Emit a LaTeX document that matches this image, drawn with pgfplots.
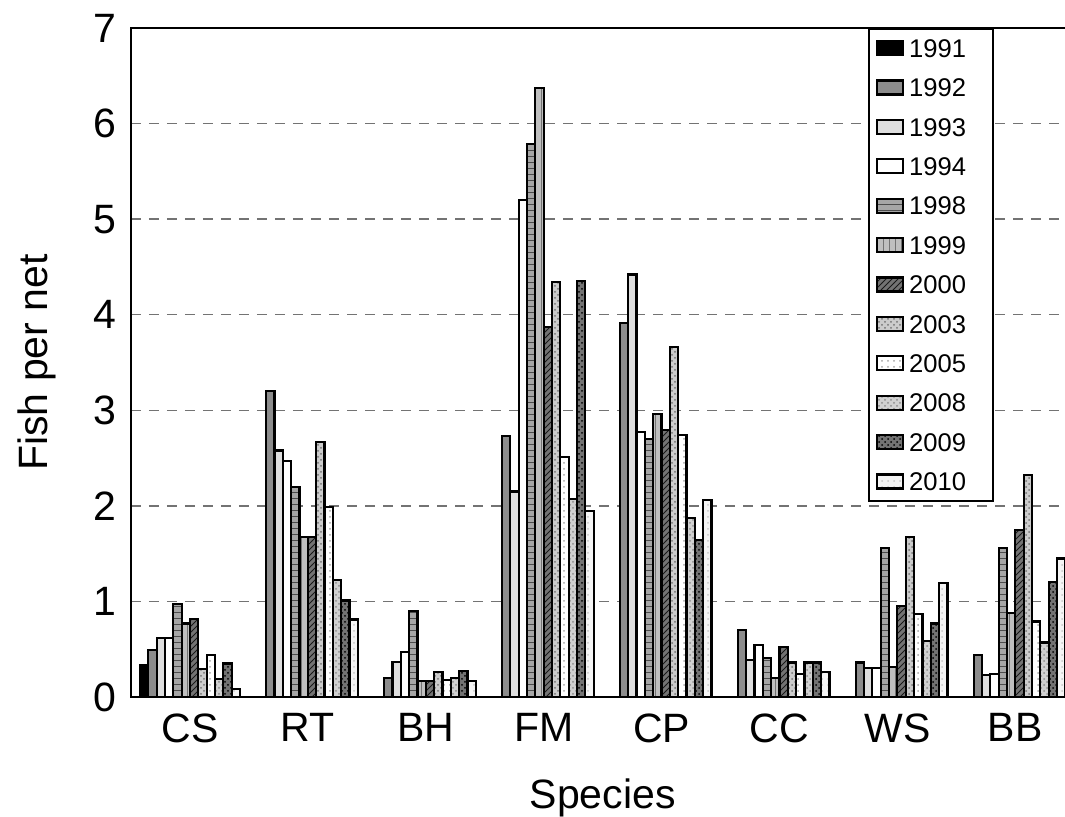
\documentclass[border=0pt]{standalone}
\usepackage{fontspec}
\setmainfont{Liberation Sans}
\usepackage{pgfplots}
\pgfplotsset{compat=1.18}
\usepackage{pgfplotstable}
\usetikzlibrary{patterns}

% Fish per net by species (g = species index) and survey year
\pgfplotstableread{
g  y1991 y1992 y1993 y1994 y1998 y1999 y2000 y2003 y2005 y2008 y2009 y2010
0  0.33  0.49  0.62  0.62  0.97  0.77  0.82  0.29  0.44  0.19  0.35  0.08
1  0     3.20  2.58  2.47  2.20  1.67  1.67  2.67  1.99  1.22  1.01  0.81
2  0     0.20  0.37  0.47  0.90  0.17  0.17  0.26  0.18  0.20  0.27  0.17
3  0     2.73  2.15  5.20  5.79  6.37  3.87  4.34  2.51  2.07  4.35  1.95
4  0     3.91  4.42  2.77  2.70  2.96  2.79  3.66  2.74  1.87  1.64  2.06
5  0     0.70  0.39  0.54  0.41  0.20  0.52  0.36  0.24  0.36  0.36  0.26
6  0     0.36  0.30  0.30  1.56  0.31  0.95  1.67  0.87  0.59  0.77  1.19
7  0     0.44  0.23  0.24  1.56  0.88  1.75  2.32  0.79  0.57  1.20  1.45
}\fishdata

\pgfplotsset{
  barbase/.style={draw=black, line width=1.1pt},
  b1991/.style={barbase, fill=black},
  b1992/.style={barbase, fill=black!45},
  b1993/.style={barbase, fill=black!13},
  b1994/.style={barbase, fill=white},
  b1998/.style={barbase, fill=black!35, postaction={pattern=horizontal lines, pattern color=black!70}},
  b1999/.style={barbase, fill=black!25, postaction={pattern=vertical lines, pattern color=black!55}},
  b2000/.style={barbase, fill=black!55, postaction={pattern=north east lines, pattern color=black!90}},
  b2003/.style={barbase, fill=black!20, postaction={pattern=crosshatch dots, pattern color=black!55}},
  b2005/.style={barbase, fill=white, postaction={pattern=dots, pattern color=black!35}},
  b2008/.style={barbase, fill=black!18, postaction={pattern=crosshatch dots, pattern color=black!45}},
  b2009/.style={barbase, fill=black!55, postaction={pattern=crosshatch dots, pattern color=black}},
  b2010/.style={barbase, fill=black!4, postaction={pattern=dots, pattern color=black!22}},
}

\newcommand\bigfont{\fontsize{20.5}{24.6}\selectfont}
\newcommand\yr[1]{\makebox[38.5pt][l]{#1}}

\begin{document}
\begin{tikzpicture}
\begin{axis}[
  at={(0,0)}, anchor=south west,
  scale only axis,
  width=471.625pt, height=334.5pt,
  xmin=-0.5, xmax=7.5,
  ymin=0, ymax=7,
  ybar=0pt, bar width=0.0707,
  xtick={0,...,7},
  xticklabels={CS,RT,BH,FM,CP,CC,WS,BB},
  ytick={0,...,7},
  major tick length=0pt,
  tick style={draw=none},
  /pgf/number format/assume math mode=true,
  tick label style={font=\bigfont},
  yticklabel style={xshift=-3.7pt},
  xticklabel style={yshift=-4.7pt},
  label style={font=\bigfont},
  xlabel={Species},
  ylabel={Fish per net},
  xlabel style={at={(axis description cs:0.5,-0.166)}, anchor=base},
  ylabel style={at={(axis description cs:-0.089,0.5)}, anchor=base},
  ymajorgrids,
  grid style={black!55, line width=0.7pt, dash pattern=on 5pt off 4pt},
  axis line style={line width=0.9pt},
  legend image code/.code={\draw[#1] (0pt,-3.5pt) rectangle (13pt,3.5pt);},
  legend style={at={(axis description cs:0.7813,1)}, anchor=north west,
    draw=black, line width=0.9pt, fill=white,
    inner xsep=3.5pt, inner ysep=5pt, row sep=10.5pt, column sep=2.5pt,
    font=\fontsize{12.8}{15}\selectfont,
    nodes={inner sep=0pt, text height=9.2pt, text depth=0pt}},
  legend cell align=left,
]
\addplot[b1991, bar shift=-0.3889] table[x=g, y=y1991] {\fishdata};
\addplot[b1992, bar shift=-0.3182] table[x=g, y=y1992] {\fishdata};
\addplot[b1993, bar shift=-0.2475] table[x=g, y=y1993] {\fishdata};
\addplot[b1994, bar shift=-0.1768] table[x=g, y=y1994] {\fishdata};
\addplot[b1998, bar shift=-0.1061] table[x=g, y=y1998] {\fishdata};
\addplot[b1999, bar shift=-0.0354] table[x=g, y=y1999] {\fishdata};
\addplot[b2000, bar shift=0.0354] table[x=g, y=y2000] {\fishdata};
\addplot[b2003, bar shift=0.1061] table[x=g, y=y2003] {\fishdata};
\addplot[b2005, bar shift=0.1768] table[x=g, y=y2005] {\fishdata};
\addplot[b2008, bar shift=0.2475] table[x=g, y=y2008] {\fishdata};
\addplot[b2009, bar shift=0.3182] table[x=g, y=y2009] {\fishdata};
\addplot[b2010, bar shift=0.3889] table[x=g, y=y2010] {\fishdata};
\legend{\yr{1991},\yr{1992},\yr{1993},\yr{1994},\yr{1998},\yr{1999},\yr{2000},\yr{2003},\yr{2005},\yr{2008},\yr{2009},\yr{2010}}
\end{axis}
\pgfresetboundingbox
\path (-65.5pt,-60pt) rectangle (467pt,348.5pt);
\end{tikzpicture}
\end{document}
